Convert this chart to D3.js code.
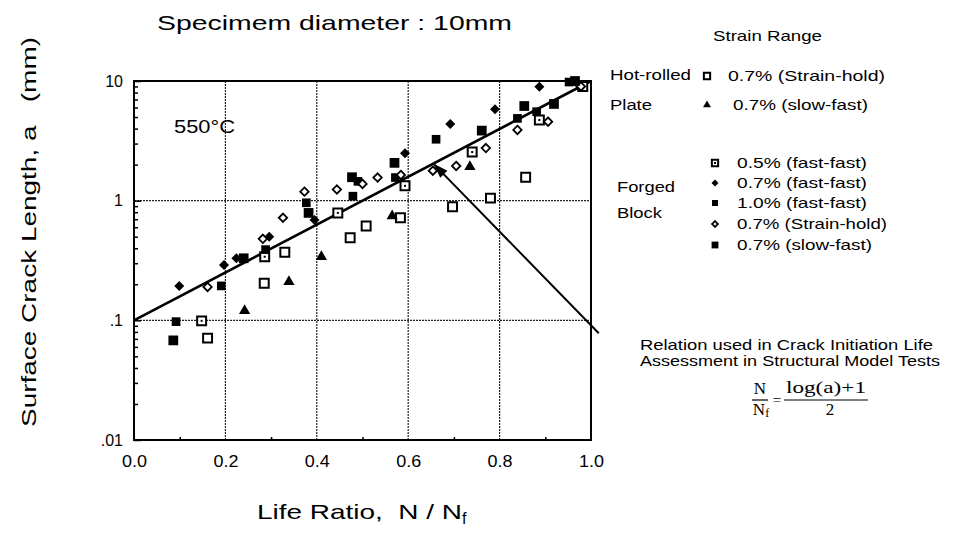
<!DOCTYPE html>
<html>
<head>
<meta charset="utf-8">
<script src="https://cdn.jsdelivr.net/npm/d3@7"></script>
<style>
  body { margin: 0; background: #fff; }
  svg { font-family: "Liberation Sans", Arial, Helvetica, sans-serif; }
</style>
</head>
<body>
<div id="chart"></div>
<script>
// data: [life ratio N/Nf, crack length a (mm)]
var hotStrainHold = [[0.161,0.071],[0.285,0.204],[0.330,0.37],[0.473,0.49],[0.508,0.615],[0.583,0.72],[0.697,0.89],[0.780,1.05],[0.857,1.57]];
var hotSlowFast = [[0.242,0.12],[0.339,0.21],[0.410,0.34],[0.565,0.745],[0.735,1.92]];
var forged05ff = [[0.148,0.099],[0.286,0.34],[0.446,0.79],[0.593,1.33],[0.740,2.55],[0.887,4.72],[0.982,9.0]];
var forged07ff = [[0.099,0.194],[0.197,0.29],[0.224,0.33],[0.296,0.50],[0.395,0.69],[0.593,2.49],[0.692,4.38],[0.790,5.8],[0.887,8.96]];
var forged10ff = [[0.092,0.0975],[0.191,0.194],[0.288,0.39],[0.377,0.96],[0.479,1.09],[0.490,1.45],[0.572,1.56],[0.661,3.26],[0.839,4.87],[0.881,5.54],[0.952,9.8]];
var forged07sh = [[0.161,0.19],[0.282,0.48],[0.326,0.72],[0.373,1.19],[0.444,1.24],[0.500,1.38],[0.533,1.56],[0.584,1.64],[0.654,1.78],[0.705,1.95],[0.770,2.75],[0.839,3.90],[0.906,4.57],[0.969,9.7],[0.978,9.0]];
var forged07sf = [[0.086,0.068],[0.240,0.33],[0.382,0.79],[0.477,1.57],[0.570,2.07],[0.761,3.85],[0.854,6.18],[0.919,6.43],[0.965,10.0]];

// N/Nf = (log(a)+1)/2  -> end points of the relation line
var relation = [[0,0.1],[1,10]];
var arrowTip = [0.655, 2.04];
var arrowTail = [1.017, 0.078];

var xTicks = [0, 0.2, 0.4, 0.6, 0.8, 1.0];
var xTickLabels = ["0.0", "0.2", "0.4", "0.6", "0.8", "1.0"];
var yTicks = [0.01, 0.1, 1, 10];
var yTickLabels = [".01", ".1", "1", "10"];

var series = [
  { name: "0.7% (Strain-hold)", data: hotStrainHold, shape: "openSquare" },
  { name: "0.7% (slow-fast)", data: hotSlowFast, shape: "triangle" },
  { name: "0.5% (fast-fast)", data: forged05ff, shape: "dotSquare" },
  { name: "0.7% (fast-fast)", data: forged07ff, shape: "diamond" },
  { name: "1.0% (fast-fast)", data: forged10ff, shape: "square" },
  { name: "0.7% (Strain-hold)", data: forged07sh, shape: "openDiamond" },
  { name: "0.7% (slow-fast)", data: forged07sf, shape: "bigSquare" }
];

var width = 967, height = 548;
var svg = d3.select("#chart").append("svg")
    .attr("width", width)
    .attr("height", height);

var x = d3.scaleLinear().domain([0, 1]).range([134, 591]);
var y = d3.scaleLog().domain([0.01, 10]).range([440, 81]);

// the scanned lettering is wide, so texts get stretched to the measured length
function label(parent, tx, ty, str, size, len) {
  var t = parent.append("text").attr("x", tx).attr("y", ty).attr("font-size", size).text(str);
  if (len) t.attr("textLength", len).attr("lengthAdjust", "spacingAndGlyphs");
  return t;
}

// grid (dotted)
var grid = svg.append("g").attr("stroke", "#222").attr("stroke-width", 1.2).attr("stroke-dasharray", "2,1");
grid.selectAll(".vg").data([0.2, 0.4, 0.6, 0.8]).enter().append("line")
    .attr("x1", function (d) { return x(d); }).attr("x2", function (d) { return x(d); })
    .attr("y1", y(10)).attr("y2", y(0.01));
grid.selectAll(".hg").data([0.1, 1]).enter().append("line")
    .attr("x1", x(0)).attr("x2", x(1))
    .attr("y1", function (d) { return y(d); }).attr("y2", function (d) { return y(d); });

// minor ticks on log axis, inward
var minor = [];
[0.01, 0.1, 1].forEach(function (d) { for (var k = 2; k <= 9; k++) minor.push(d * k); });
svg.append("g").attr("transform", "translate(" + x(0) + ",0)")
    .call(d3.axisRight(y).tickValues(minor).tickSize(4).tickFormat(""))
    .call(function (g) { g.select(".domain").remove(); g.selectAll("line").attr("stroke-width", 1.5); });
svg.append("g").attr("transform", "translate(" + x(0) + ",0)")
    .call(d3.axisRight(y).tickValues(yTicks).tickSize(7).tickFormat(""))
    .call(function (g) { g.select(".domain").remove(); g.selectAll("line").attr("stroke-width", 1.5); });

// small ticks on x axis at odd tenths
svg.append("g").attr("transform", "translate(0," + y(0.01) + ")")
    .call(d3.axisTop(x).tickValues([0.1, 0.3, 0.5, 0.7, 0.9]).tickSize(3).tickFormat(""))
    .call(function (g) { g.select(".domain").remove(); g.selectAll("line").attr("stroke-width", 1.5); });

// tick labels
svg.append("g").attr("transform", "translate(" + (x(0) - 11) + ",0)")
    .call(d3.axisLeft(y).tickValues(yTicks).tickSize(0).tickPadding(0)
      .tickFormat(function (d, i) { return yTickLabels[i]; }))
    .call(function (g) {
      g.select(".domain").remove();
      g.selectAll("text").attr("font-size", 16).attr("fill", "#000")
        .attr("font-family", "Liberation Sans, Arial, sans-serif");
    });
svg.append("g").attr("transform", "translate(0," + (y(0.01) + 16) + ")")
    .call(d3.axisBottom(x).tickValues(xTicks).tickSize(0).tickPadding(0)
      .tickFormat(function (d, i) { return xTickLabels[i]; }))
    .call(function (g) {
      g.select(".domain").remove();
      g.selectAll("text").attr("font-size", 16).attr("fill", "#000")
        .attr("font-family", "Liberation Sans, Arial, sans-serif")
        .attr("textLength", 25).attr("lengthAdjust", "spacingAndGlyphs");
    });

// frame
svg.append("rect")
    .attr("x", x(0)).attr("y", y(10))
    .attr("width", x(1) - x(0)).attr("height", y(0.01) - y(10))
    .attr("fill", "none").attr("stroke", "#000").attr("stroke-width", 2);

// relation line
svg.append("path")
    .datum(relation)
    .attr("d", d3.line().x(function (d) { return x(d[0]); }).y(function (d) { return y(d[1]); }))
    .attr("stroke", "#000").attr("stroke-width", 2.6).attr("fill", "none");

// markers
function drawMarker(g, shape, s) {
  var sq = d3.symbol().type(d3.symbolSquare);
  var tr = d3.symbol().type(d3.symbolTriangle);
  var r = s * 0.5;
  var dia = "M0," + (-r) + "L" + r + ",0L0," + r + "L" + (-r) + ",0Z";
  if (shape === "openSquare") {
    g.append("path").attr("d", sq.size(s * s * 0.8)()).attr("fill", "#fff").attr("stroke", "#000").attr("stroke-width", 2);
  } else if (shape === "dotSquare") {
    g.append("path").attr("d", sq.size(s * s * 0.8)()).attr("fill", "#fff").attr("stroke", "#000").attr("stroke-width", 2);
    g.append("path").attr("d", sq.size(4)()).attr("fill", "#000");
  } else if (shape === "triangle") {
    g.append("path").attr("d", tr.size(s * s * 0.55)()).attr("fill", "#000");
  } else if (shape === "diamond") {
    g.append("path").attr("d", dia).attr("fill", "#000");
  } else if (shape === "openDiamond") {
    r = s * 0.42;
    g.append("path").attr("d", "M0," + (-r) + "L" + r + ",0L0," + r + "L" + (-r) + ",0Z")
      .attr("fill", "#fff").attr("stroke", "#000").attr("stroke-width", 1.8);
  } else if (shape === "square") {
    g.append("path").attr("d", sq.size(s * s * 0.75)()).attr("fill", "#000");
  } else if (shape === "bigSquare") {
    g.append("path").attr("d", sq.size(s * s * 0.95)()).attr("fill", "#000");
  }
}

series.forEach(function (sr) {
  svg.append("g").selectAll("g").data(sr.data).enter().append("g")
      .attr("transform", function (d) { return "translate(" + x(d[0]) + "," + y(d[1]) + ")"; })
      .each(function () { drawMarker(d3.select(this), sr.shape, 10); });
});

// annotation arrow
var ax1 = x(arrowTail[0]), ay1 = y(arrowTail[1]), ax2 = x(arrowTip[0]), ay2 = y(arrowTip[1]);
svg.append("line").attr("x1", ax1).attr("y1", ay1).attr("x2", ax2).attr("y2", ay2)
    .attr("stroke", "#000").attr("stroke-width", 2);
var ang = Math.atan2(ay2 - ay1, ax2 - ax1) * 180 / Math.PI;
svg.append("path")
    .attr("d", "M0,0L-15,-5L-15,5Z")
    .attr("transform", "translate(" + ax2 + "," + ay2 + ") rotate(" + ang + ")")
    .attr("fill", "#000");

// texts
label(svg, 157, 30, "Specimem diameter : 10mm", 21, 355);
label(svg, 174, 133, "550°C", 19, 61);

svg.append("text")
    .attr("transform", "translate(36,232) rotate(-90)")
    .attr("text-anchor", "middle").attr("font-size", 21)
    .attr("xml:space", "preserve")
    .attr("textLength", 390).attr("lengthAdjust", "spacingAndGlyphs")
    .text("Surface Crack Length, a   (mm)");

var xl = label(svg, 257, 519, "", 21);
xl.attr("xml:space", "preserve");
xl.append("tspan").attr("textLength", 205).attr("lengthAdjust", "spacingAndGlyphs").text("Life Ratio,  N / N");
xl.append("tspan").attr("dy", 5).attr("font-size", 16).text("f");

// legend
var leg = svg.append("g");
label(leg, 713, 41, "Strain Range", 15, 109);
label(leg, 610, 80, "Hot-rolled", 15, 81);
label(leg, 610, 110, "Plate", 15, 42);
label(leg, 617, 192, "Forged", 15, 58);
label(leg, 617, 218, "Block", 15, 45);

var legRows = [
  { i: 0, mx: 707, tx: 728, ty: 81, len: 157 },
  { i: 1, mx: 707, tx: 733, ty: 110, len: 135 },
  { i: 2, mx: 715, tx: 737, ty: 168, len: 130 },
  { i: 3, mx: 715, tx: 737, ty: 188, len: 130 },
  { i: 4, mx: 715, tx: 737, ty: 208, len: 130 },
  { i: 5, mx: 715, tx: 737, ty: 229, len: 150 },
  { i: 6, mx: 715, tx: 737, ty: 250, len: 135 }
];
legRows.forEach(function (r) {
  var g = leg.append("g").attr("transform", "translate(" + r.mx + "," + (r.ty - 5) + ")");
  drawMarker(g, series[r.i].shape, 7);
  label(leg, r.tx, r.ty, series[r.i].name, 15, r.len);
});

label(svg, 640, 350, "Relation used in Crack Initiation Life", 15, 293);
label(svg, 640, 366, "Assessment in Structural Model Tests", 15, 300);

// formula
var fm = svg.append("g").attr("font-family", "Liberation Serif, Times New Roman, serif").attr("font-size", 17);
fm.append("text").attr("x", 760).attr("y", 394).attr("text-anchor", "middle").text("N");
var nf = fm.append("text").attr("x", 761).attr("y", 415).attr("text-anchor", "middle");
nf.append("tspan").text("N");
nf.append("tspan").attr("font-size", 12).attr("dy", 2).text("f");
fm.append("line").attr("x1", 752).attr("x2", 768).attr("y1", 400).attr("y2", 400).attr("stroke", "#000").attr("stroke-width", 1.2);
fm.append("text").attr("x", 777).attr("y", 405).attr("text-anchor", "middle").attr("font-size", 15).text("=");
label(fm, 786, 393, "log(a)+1", 17, 80);
fm.append("line").attr("x1", 784).attr("x2", 868).attr("y1", 400).attr("y2", 400).attr("stroke", "#000").attr("stroke-width", 1.2);
fm.append("text").attr("x", 830).attr("y", 415).attr("text-anchor", "middle").text("2");
</script>
</body>
</html>
